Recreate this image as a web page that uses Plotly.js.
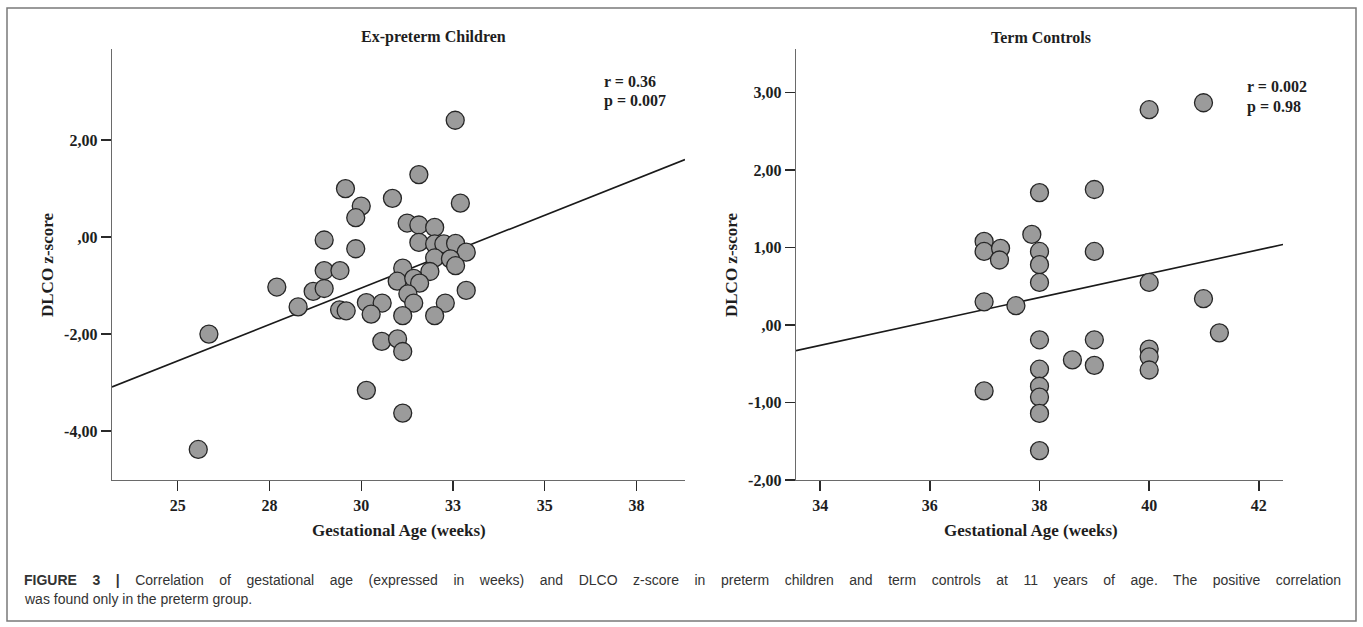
<!DOCTYPE html>
<html>
<head>
<meta charset="utf-8">
<script src="https://cdn.plot.ly/plotly-3.0.1.min.js"></script>
<style>
  html, body { margin: 0; padding: 0; background: #ffffff; }
  #chart { width: 1363px; height: 627px; }
</style>
</head>
<body>
<div id="chart"></div>
<script>
// ---------- Data ----------
const pretermGA = [32.56, 31.57, 29.57, 30.85, 32.70, 30.00, 29.85, 31.25, 31.57, 32.00,
                   28.99, 29.85, 31.57, 32.00, 32.25, 32.57, 32.86, 32.00, 32.43, 32.57,
                   28.99, 29.42, 31.13, 31.87, 30.98, 31.43, 31.59, 32.86, 27.70, 28.69,
                   28.99, 31.27, 31.43, 30.14, 30.57, 30.27, 32.29, 28.28, 29.41, 29.59,
                   31.13, 32.00, 30.56, 30.99, 31.13, 30.14, 31.13, 25.85, 25.56];
const pretermZ  = [2.41, 1.29, 1.00, 0.80, 0.70, 0.64, 0.40, 0.29, 0.25, 0.20,
                   -0.06, -0.24, -0.11, -0.14, -0.14, -0.13, -0.31, -0.43, -0.45, -0.59,
                   -0.69, -0.69, -0.64, -0.71, -0.91, -0.85, -0.95, -1.10, -1.03, -1.12,
                   -1.06, -1.17, -1.36, -1.35, -1.36, -1.59, -1.36, -1.44, -1.50, -1.52,
                   -1.62, -1.62, -2.15, -2.10, -2.36, -3.16, -3.63, -2.00, -4.38];
const pretermFitX = [23.21, 38.82];
const pretermFitY = [-3.09, 1.60];

const termGA = [40.00, 40.99, 38.00, 39.00, 37.86, 36.99, 36.99, 37.29, 37.27, 38.00,
                38.00, 38.00, 39.00, 40.00, 36.99, 37.57, 40.99, 41.28, 38.00, 39.00,
                38.60, 39.00, 40.00, 40.00, 40.00, 38.00, 38.00, 38.00, 38.00, 36.99, 38.00];
const termZ  = [2.78, 2.87, 1.71, 1.75, 1.17, 1.08, 0.95, 0.99, 0.84, 0.95,
                0.78, 0.55, 0.95, 0.55, 0.30, 0.25, 0.34, -0.10, -0.19, -0.19,
                -0.45, -0.52, -0.31, -0.41, -0.58, -0.57, -0.79, -0.93, -1.14, -0.85, -1.62];
const termFitX = [33.56, 42.44];
const termFitY = [-0.33, 1.04];

// Tick labels
const pretermXTickVals = [25, 27.5, 30, 32.5, 35, 37.5];
const pretermXTickText = ['25', '28', '30', '33', '35', '38'];
const pretermYTickVals = [-4, -2, 0, 2];
const pretermYTickText = ['-4,00', '-2,00', ',00', '2,00'];
const termXTickVals = [34, 36, 38, 40, 42];
const termXTickText = ['34', '36', '38', '40', '42'];
const termYTickVals = [-2, -1, 0, 1, 2, 3];
const termYTickText = ['-2,00', '-1,00', ',00', '1,00', '2,00', '3,00'];

// Texts
const panelTitles = ['Ex-preterm Children', 'Term Controls'];
const statsPreterm = ['r = 0.36', 'p = 0.007'];
const statsTerm = ['r = 0.002', 'p = 0.98'];
const xTitle = 'Gestational Age (weeks)';
const yTitle = 'DLCO z-score';
const captionBold = 'FIGURE 3 |';
const captionLine1 = ' Correlation of gestational age (expressed in weeks) and DLCO z-score in preterm children and term controls at 11 years of age. The positive correlation';
const captionLine2 = 'was found only in the preterm group.';

// ---------- Layout helpers ----------
const W = 1363, H = 627;
const px = x => x / W;
const py = y => 1 - y / H;

const serif = 'Liberation Serif, Times New Roman, serif';
const sans = 'Liberation Sans, Arial, Helvetica, sans-serif';
const dark = '#1e1e1e';

const markerStyle = {
  size: 18,
  color: '#9b9b9b',
  line: { color: '#262626', width: 1.3 }
};

const traces = [
  { type: 'scatter', mode: 'lines', x: pretermFitX, y: pretermFitY, xaxis: 'x', yaxis: 'y',
    line: { color: '#1a1a1a', width: 1.6 }, hoverinfo: 'skip', showlegend: false },
  { type: 'scatter', mode: 'markers', x: pretermGA, y: pretermZ, xaxis: 'x', yaxis: 'y',
    marker: markerStyle, showlegend: false, cliponaxis: false },
  { type: 'scatter', mode: 'lines', x: termFitX, y: termFitY, xaxis: 'x2', yaxis: 'y2',
    line: { color: '#1a1a1a', width: 1.6 }, hoverinfo: 'skip', showlegend: false },
  { type: 'scatter', mode: 'markers', x: termGA, y: termZ, xaxis: 'x2', yaxis: 'y2',
    marker: markerStyle, showlegend: false, cliponaxis: false }
];

const axisCommon = {
  showgrid: false, zeroline: false, showline: true,
  linecolor: '#6a6a6a', linewidth: 1.4,
  ticks: 'outside', ticklen: 10, tickwidth: 1.4, tickcolor: '#2a2a2a',
  tickfont: { family: serif, size: 16, color: dark, weight: 'bold' },
  tickmode: 'array', fixedrange: true
};

const yDomain = [py(480), py(48.5)];

const layout = {
  width: W, height: H,
  margin: { l: 0, r: 0, t: 0, b: 0, pad: 0 },
  paper_bgcolor: '#ffffff', plot_bgcolor: '#ffffff',
  showlegend: false,
  xaxis: Object.assign({}, axisCommon, {
    domain: [px(112), px(685)], range: [23.21, 38.82], anchor: 'y',
    tickvals: pretermXTickVals, ticktext: pretermXTickText
  }),
  yaxis: Object.assign({}, axisCommon, {
    domain: yDomain, range: [-5.01, 3.89], anchor: 'x',
    tickvals: pretermYTickVals, ticktext: pretermYTickText
  }),
  xaxis2: Object.assign({}, axisCommon, {
    domain: [px(796), px(1283)], range: [33.56, 42.44], anchor: 'y2',
    tickvals: termXTickVals, ticktext: termXTickText
  }),
  yaxis2: Object.assign({}, axisCommon, {
    domain: yDomain, range: [-2, 3.57], anchor: 'x2',
    tickvals: termYTickVals, ticktext: termYTickText
  }),
  shapes: [
    { type: 'rect', xref: 'paper', yref: 'paper',
      x0: px(7), x1: px(1356), y0: py(621), y1: py(8),
      line: { color: '#7a7a7a', width: 1.5 }, fillcolor: 'rgba(0,0,0,0)' }
  ],
  annotations: []
};

function ann(text, x, y, opts) {
  return Object.assign({
    text: text, xref: 'paper', yref: 'paper', x: px(x), y: py(y),
    showarrow: false, xanchor: 'center', yanchor: 'middle',
    font: { family: serif, size: 16, color: dark, weight: 'bold' }
  }, opts || {});
}

const A = layout.annotations;
// Panel titles
A.push(ann(panelTitles[0], 433, 37));
A.push(ann(panelTitles[1], 1041, 38));
// Stats
A.push(ann(statsPreterm[0], 602, 81, { xanchor: 'left', align: 'left' }));
A.push(ann(statsPreterm[1], 602, 101, { xanchor: 'left', align: 'left' }));
A.push(ann(statsTerm[0], 1245, 87, { xanchor: 'left', align: 'left' }));
A.push(ann(statsTerm[1], 1245, 107, { xanchor: 'left', align: 'left' }));
// Axis titles
const axTitleFont = { family: serif, size: 17, color: dark, weight: 'bold' };
A.push(ann(xTitle, 399, 530, { font: axTitleFont }));
A.push(ann(xTitle, 1031, 530, { font: axTitleFont }));
A.push(ann(yTitle, 47, 265, { textangle: -90, font: axTitleFont }));
A.push(ann(yTitle, 731, 265, { textangle: -90, font: axTitleFont }));
// Caption
const capFont = { family: sans, size: 14, color: '#333333' };
A.push(ann('<b>' + captionBold + '</b>' + captionLine1, 22, 580,
  { xanchor: 'left', align: 'left', font: capFont }));
A.push(ann(captionLine2, 22, 599,
  { xanchor: 'left', align: 'left', font: capFont }));

Plotly.newPlot('chart', traces, layout, { displayModeBar: false, staticPlot: true }).then(function () {
  // Justify the first caption line (as in the printed figure) by widening word gaps.
  const targetRight = 1341;
  document.querySelectorAll('#chart .annotation-text').forEach(function (t) {
    if (t.textContent.indexOf(captionBold) === 0) {
      const box = t.getBBox();
      const ctm = t.getCTM();
      const left = ctm ? ctm.e + box.x : box.x;
      const width = box.width;
      const gaps = (t.textContent.match(/ /g) || []).length;
      const extra = (targetRight - left - width) / gaps;
      if (extra > 0) t.style.wordSpacing = extra.toFixed(2) + 'px';
    }
  });
});
</script>
</body>
</html>
